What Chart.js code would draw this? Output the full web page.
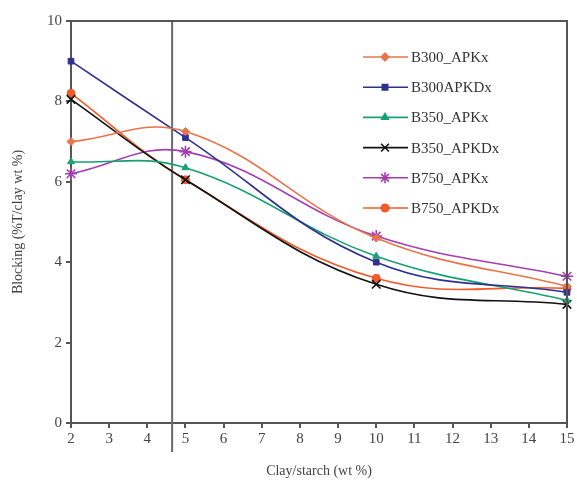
<!DOCTYPE html>
<html>
<head>
<meta charset="utf-8">
<script src="https://cdn.jsdelivr.net/npm/chart.js@4"></script>
<style>
  html, body { margin: 0; padding: 0; background: #fff; }
  #wrap { width: 577px; height: 484px; }
</style>
</head>
<body>
<div id="wrap"><canvas id="c" width="577" height="484"></canvas></div>
<script>
// ===== data =====
const clayX = [2, 5, 10, 15];
const seriesNames = ['B300_APKx', 'B300APKDx', 'B350_APKx', 'B350_APKDx', 'B750_APKx', 'B750_APKDx'];
const b300APKx   = [7.0, 7.25, 4.6, 3.4];
const b300APKDx  = [9.0, 7.1, 4.0, 3.25];
const b350APKx   = [6.5, 6.35, 4.15, 3.05];
const b350APKDx  = [8.05, 6.05, 3.45, 2.95];
const b750APKx   = [6.2, 6.75, 4.65, 3.65];
const b750APKDx  = [8.2, 6.05, 3.6, 3.35];
const markerLineX = [4.65, 4.65];
const markerLineY = [-0.72, 10];
const yTicks = [0, 2, 4, 6, 8, 10];

const colors = ['#e9744c', '#2e318f', '#17a072', '#111111', '#a33fb0', '#f25a2a'];
const markers = ['rectRot', 'rect', 'triangle', 'crossRot', 'star', 'circle'];
const allValues = [b300APKx, b300APKDx, b350APKx, b350APKDx, b750APKx, b750APKDx];

const serif = '"Liberation Serif", "DejaVu Serif", serif';

const isBig = m => m === 'star' || m === 'crossRot';

const datasets = allValues.map((vals, i) => ({
  label: seriesNames[i],
  data: vals.map((v, j) => ({ x: clayX[j], y: v })),
  borderColor: colors[i],
  backgroundColor: colors[i],
  borderWidth: 1.6,
  tension: 0.4,
  pointStyle: markers[i],
  pointRadius: isBig(markers[i]) ? 6 : 4,
  pointBorderWidth: isBig(markers[i]) ? 1.6 : 1,
  pointBorderColor: colors[i],
  clip: 10,
  order: 1
}));

datasets.push({
  label: '_vline',
  data: markerLineX.map((x, j) => ({ x, y: markerLineY[j] })),
  borderColor: '#6a6a6a',
  borderWidth: 2,
  pointRadius: 0,
  clip: false,
  order: 2
});

// frame + legend drawn on canvas
const framePlugin = {
  id: 'frame',
  afterDraw(chart) {
    const { ctx, chartArea: a } = chart;
    ctx.save();
    ctx.strokeStyle = '#555';
    ctx.lineWidth = 2;
    ctx.beginPath();
    ctx.moveTo(a.left, a.top);
    ctx.lineTo(a.right, a.top);
    ctx.lineTo(a.right, a.bottom);
    ctx.stroke();

    // legend
    const x0 = 363, y0 = 57, step = 30.2;
    ctx.font = '15px ' + serif;
    ctx.textBaseline = 'middle';
    seriesNames.forEach((name, i) => {
      const y = y0 + i * step;
      ctx.strokeStyle = colors[i];
      ctx.lineWidth = 1.6;
      ctx.beginPath();
      ctx.moveTo(x0, y);
      ctx.lineTo(x0 + 45, y);
      ctx.stroke();
      const big = isBig(markers[i]);
      ctx.fillStyle = colors[i];
      Chart.helpers.drawPoint(ctx, {
        pointStyle: markers[i],
        radius: big ? 5.5 : 3.8,
        borderWidth: big ? 1.6 : 1,
        rotation: 0
      }, x0 + 22, y);
      ctx.fillStyle = '#333';
      ctx.fillText(name, x0 + 48, y + 1);
    });
    ctx.restore();
  }
};

new Chart(document.getElementById('c'), {
  type: 'line',
  data: { datasets },
  options: {
    responsive: false,
    animation: false,
    layout: { padding: { top: 21, right: 10, left: 0, bottom: 0 } },
    plugins: { legend: { display: false }, tooltip: { enabled: false } },
    scales: {
      x: {
        type: 'linear', min: 2, max: 15,
        ticks: { stepSize: 1, color: '#444', font: { family: serif, size: 15 }, padding: 2 },
        grid: { drawOnChartArea: false, drawTicks: true, tickLength: 5, color: '#555', lineWidth: 2 },
        border: { color: '#555', width: 2 },
        title: { display: true, text: 'Clay/starch (wt %)', color: '#444', font: { family: serif, size: 14 }, padding: { top: 6 } },
        afterFit(s) { s.height = 61; }
      },
      y: {
        type: 'linear', min: 0, max: 10,
        afterBuildTicks(s) { s.ticks = yTicks.map(v => ({ value: v })); },
        ticks: { color: '#444', font: { family: serif, size: 15 }, padding: 4 },
        grid: { drawOnChartArea: false, drawTicks: true, tickLength: 5, color: '#555', lineWidth: 2 },
        border: { color: '#555', width: 2 },
        title: { display: true, text: 'Blocking (%T/clay wt %)', color: '#444', font: { family: serif, size: 14 }, padding: { top: 10, bottom: 4 } },
        afterFit(s) { s.width = 71; }
      }
    }
  },
  plugins: [framePlugin]
});
</script>
</body>
</html>
